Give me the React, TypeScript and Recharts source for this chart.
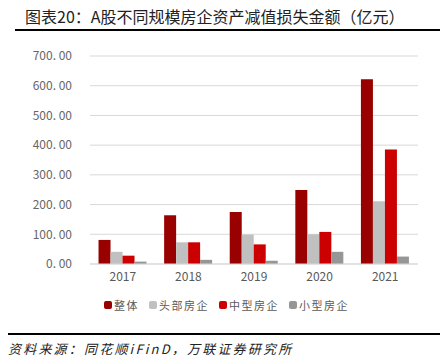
import { BarChart, Bar, XAxis, YAxis, CartesianGrid } from "recharts";

const years = ["2017", "2018", "2019", "2020", "2021"];
const overall = [81, 164, 175, 249, 622];
const topTier = [41, 73, 99, 100, 211];
const midTier = [28, 73, 66, 108, 385];
const smallTier = [8, 14, 11, 41, 25];
const yTicks = [0, 100, 200, 300, 400, 500, 600, 700];

const series = [
  { key: "overall", name: "整体", color: "#990000" },
  { key: "top", name: "头部房企", color: "#C0C0C0" },
  { key: "mid", name: "中型房企", color: "#CC0000" },
  { key: "small", name: "小型房企", color: "#969696" },
];

const data = years.map((y, i) => ({
  year: y,
  overall: overall[i],
  top: topTier[i],
  mid: midTier[i],
  small: smallTier[i],
}));

const font = '"Noto Sans CJK SC", "Noto Sans", sans-serif';

function LegendRow() {
  return (
    <div style={{ display: "flex", fontSize: 11, color: "#595959", letterSpacing: 1.5 }}>
      {series.map((s) => (
        <div key={s.key} style={{ display: "flex", alignItems: "center", marginRight: 10 }}>
          <span style={{ width: 8, height: 8, background: s.color, borderRadius: 2, marginRight: 2 }} />
          {s.name}
        </div>
      ))}
    </div>
  );
}

export default function App() {
  return (
    <div style={{ position: "relative", width: 448, height: 363, margin: -8, background: "#fff", fontFamily: font }}>
      <div style={{ position: "absolute", left: 25, top: 4, fontSize: 16, color: "#222", whiteSpace: "nowrap" }}>
        图表20：A股不同规模房企资产减值损失金额（亿元）
      </div>
      <div style={{ position: "absolute", left: 15, right: 0, top: 29, height: 2, background: "#000" }} />
      <BarChart
        width={448}
        height={363}
        data={data}
        margin={{ top: 56, right: 30, left: 10, bottom: 69 }}
        barCategoryGap="13%"
        barGap={0}
      >
        <CartesianGrid vertical={false} stroke="#d9d9d9" />
        <XAxis
          dataKey="year"
          tickLine={false}
          axisLine={{ stroke: "#d9d9d9" }}
          tick={{ fontSize: 12, fill: "#595959", fontFamily: font }}
          height={30}
        />
        <YAxis
          width={80}
          domain={[0, 700]}
          ticks={yTicks}
          tickLine={false}
          axisLine={false}
          tickMargin={12}
          tick={{ fontSize: 12, fill: "#666", fontFamily: font }}
          tickFormatter={(v: number) => v.toFixed(2).replace(".", ". ")}
        />
        {series.map((s) => (
          <Bar key={s.key} dataKey={s.key} name={s.name} fill={s.color} isAnimationActive={false} />
        ))}
      </BarChart>
      <div style={{ position: "absolute", left: 104, top: 297 }}>
        <LegendRow />
      </div>
      <div style={{ position: "absolute", left: 0, right: 0, top: 333, height: 2, background: "#000" }} />
      <div
        style={{
          position: "absolute",
          left: 8,
          top: 339,
          fontSize: 13,
          fontStyle: "italic",
          color: "#222",
          letterSpacing: 2.2,
          whiteSpace: "nowrap",
        }}
      >
        资料来源：同花顺iFinD，万联证券研究所
      </div>
    </div>
  );
}
